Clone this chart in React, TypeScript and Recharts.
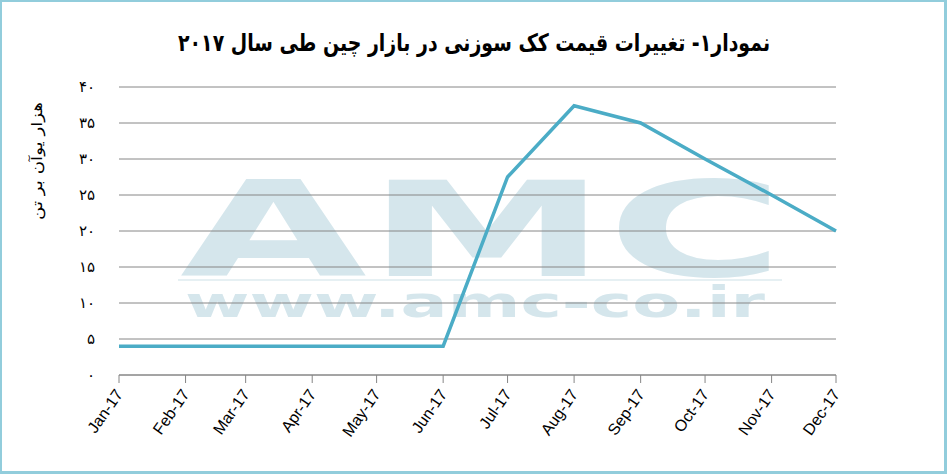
import React from "react"
import { LineChart, Line, XAxis, YAxis, CartesianGrid } from "recharts"

const W = 947
const H = 474

const TITLE = "نمودار۱- تغییرات قیمت کک سوزنی در بازار چین  طی سال ۲۰۱۷"
const Y_LABEL = "هزار یوآن بر تن"

const months = ["Jan-17", "Feb-17", "Mar-17", "Apr-17", "May-17", "Jun-17", "Jul-17", "Aug-17", "Sep-17", "Oct-17", "Nov-17", "Dec-17"]
// price, thousand yuan per tonne
const prices = [4, 4, 4, 4, 4, 4, 27.5, 37.4, 35, 30, 25, 20]
const yTicks = [0, 5, 10, 15, 20, 25, 30, 35, 40]

// date axis: days since 1 Jan 2017 for the 1st of each month
const monthDay = months.map((_, i) => (Date.UTC(2017, i, 1) - Date.UTC(2017, 0, 1)) / 86400000)

const data = months.map((m, i) => ({ day: monthDay[i], label: m, price: prices[i] }))

const FA_DIGITS = "۰۱۲۳۴۵۶۷۸۹"
const toFa = (n: number) => String(n).replace(/\d/g, (d) => FA_DIGITS[+d])

const PERSIAN = "'DejaVu Sans', sans-serif"

function MonthTick(props: any) {
  const { x, y, payload } = props
  const i = monthDay.indexOf(payload.value)
  return (
    <g transform={`translate(${x},${y})`}>
      <text
        transform="rotate(-55)"
        textAnchor="end"
        dy="0.35em"
        fontSize={16}
        fontFamily="'Liberation Sans', sans-serif"
        fill="#000"
      >
        {months[i]}
      </text>
    </g>
  )
}

export default function App() {
  return (
    <div style={{ position: "absolute", left: 0, top: 0, width: W, height: H, background: "#fff" }}>
      {/* watermark, title and axis title sit behind the chart */}
      <svg width={W} height={H} style={{ position: "absolute", left: 0, top: 0 }}>
        <text
          x={180}
          y={276}
          fontSize={132}
          fontWeight="bold"
          fontFamily="'DejaVu Sans', sans-serif"
          fill="#d5e6ec"
          textLength={604}
          lengthAdjust="spacingAndGlyphs"
        >
          AMC
        </text>
        <rect x={178} y={279} width={604} height={2} fill="#e6f0f3" />
        <text
          x={185}
          y={317}
          fontSize={43}
          fontWeight="bold"
          fontFamily="'DejaVu Sans', sans-serif"
          fill="#d5e6ec"
          textLength={580}
          lengthAdjust="spacingAndGlyphs"
        >
          www.amc-co.ir
        </text>
        <text
          x={474}
          y={51}
          textAnchor="middle"
          fontSize={24}
          fontWeight="bold"
          fontFamily={PERSIAN}
          fill="#000"
          direction="rtl"
          textLength={592}
          lengthAdjust="spacingAndGlyphs"
        >
          {TITLE}
        </text>
        <text
          x={42}
          y={161}
          transform="rotate(-90, 42, 161)"
          textAnchor="middle"
          fontSize={15}
          fontFamily={PERSIAN}
          fill="#000"
          direction="rtl"
          textLength={118}
          lengthAdjust="spacingAndGlyphs"
        >
          {Y_LABEL}
        </text>
      </svg>

      <div style={{ position: "absolute", left: 0, top: 0 }}>
        <LineChart width={W} height={H} data={data} margin={{ top: 87, right: 111, bottom: 0, left: 0 }}>
          <CartesianGrid vertical={false} stroke="#868686" strokeWidth={1} />
          <XAxis
            dataKey="day"
            type="number"
            domain={[0, 334]}
            ticks={monthDay}
            height={99}
            stroke="#868686"
            tickSize={8}
            tickMargin={8}
            tick={<MonthTick />}
          />
          <YAxis
            type="number"
            domain={[0, 40]}
            ticks={yTicks}
            width={119}
            axisLine={false}
            tickLine={false}
            tickSize={0}
            tickMargin={24}
            tickFormatter={toFa}
            tick={{ fill: "#000", fontSize: 15, fontFamily: PERSIAN }}
          />
          <Line
            dataKey="price"
            type="linear"
            stroke="#4bacc6"
            strokeWidth={3.5}
            dot={false}
            isAnimationActive={false}
          />
        </LineChart>
      </div>

      <div
        style={{
          position: "absolute",
          left: 0,
          top: 0,
          width: W,
          height: H,
          boxSizing: "border-box",
          borderStyle: "solid",
          borderColor: "#92cddc",
          borderWidth: "2px 3px 3px 2px",
          pointerEvents: "none",
        }}
      />
    </div>
  )
}
